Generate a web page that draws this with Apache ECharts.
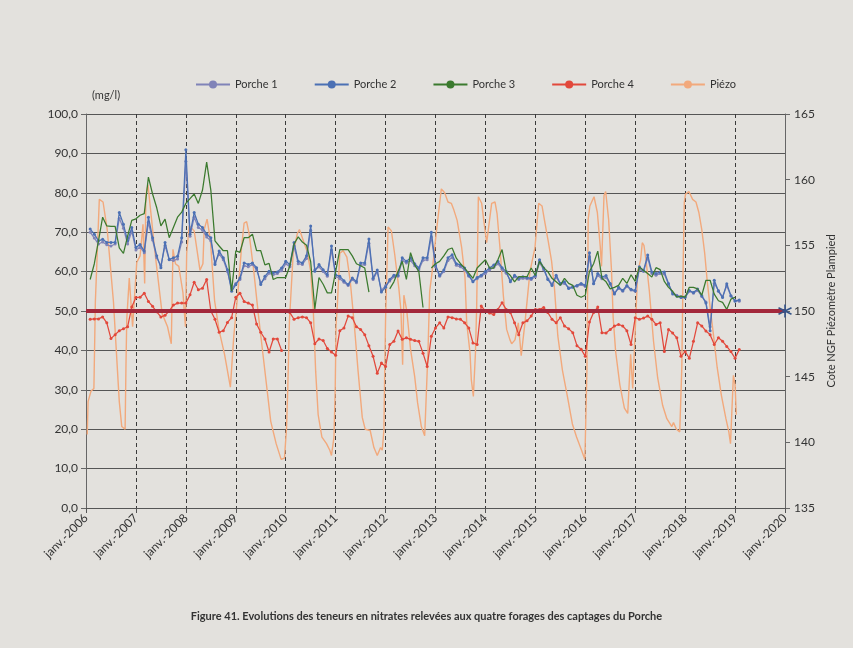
<!DOCTYPE html>
<html><head><meta charset="utf-8">
<script src="https://cdn.jsdelivr.net/npm/echarts@6/dist/echarts.min.js"></script>
<style>html,body{margin:0;padding:0;background:#e3e1dd;}#c{width:853px;height:648px;}</style>
</head><body><div id="c"></div>
<script>
// ---- Data ----
const yearTicks = [2006,2007,2008,2009,2010,2011,2012,2013,2014,2015,2016,2017,2018,2019,2020];
const seriesNames = ['Porche 1','Porche 2','Porche 3','Porche 4','Piézo'];
// monthly samples, first sample = Feb 2006
const porcheStartMonth = 1;
const porche1 = [70,68.5,67,67.5,66.8,66.5,67,73.5,71,67,70.2,65.5,66.2,64.8,72.5,68,63.5,61.5,66.6,63,62.8,63.2,67.5,88,69,73.8,71.2,70.5,68.8,67.8,62.2,64.5,63,60,55.6,57,58,61.5,61.2,61.8,60.5,57.2,58.2,59.6,59.2,59.5,60.2,62,61.2,66.5,62,61.8,63.3,70.5,60.5,61.2,60,58.8,65.5,58.8,58.2,57.3,56.5,58,57.2,61.6,61.8,67.2,58,60,55.2,56.4,57.6,58.7,58.8,62.8,62.2,62.8,61.5,60.5,62.9,63,68.8,61.2,58.8,60,62.8,63.6,61.6,61.2,60.4,58.8,57.6,58.2,58.8,59.5,60.4,61.1,62,60.6,59.6,57.8,58.7,58,58.3,58.2,58,58.7,62.3,60.5,58.2,56.8,58.6,56.8,57,55.9,56.2,56.3,56.7,56.2,63.8,57,59,58.2,58.5,56.8,54.6,55.7,55,56.2,55.3,55,60.6,60,63.5,59.5,59.1,59.5,59.4,56.8,54.6,54,53.6,53.6,55,54.5,55.2,53.7,52.3,46,57,55.2,53.6,56.4,53.8,52.7,52.5];
const porche2 = [70.8,69.5,67.8,68.2,67.4,67.4,67.4,75,72,67.8,71.2,66.1,66.9,65.2,73.8,68.6,64,61,67.4,63.1,63.5,63.9,68.6,90.9,69.5,75,72,71.2,69.5,68.6,61.8,65.2,63.5,60.5,55,56.7,58.4,62.2,61.8,62.2,61,56.7,58.8,60.1,59.7,59.9,60.9,62.6,61.8,67.4,62.6,62.2,64,71.6,60.1,61.8,60.5,59.2,66.5,59.2,58.8,57.7,56.7,58.4,57.5,62.2,62.2,68.3,58.3,60.4,54.8,56,58,59.1,59.1,63.5,62.6,63.5,62,60.9,63.5,63.5,70,61.7,59.1,60.4,63.5,64.3,62,61.7,60.9,59.1,57.4,58.5,59.1,60,60.9,61.7,62.6,61,60,57.4,59.1,58.3,58.7,58.5,58.3,59.1,63,60.9,58,56.5,59.1,57,57.4,55.7,56,56.5,57,56.5,64.8,56.9,59.5,58.6,59,57,54.3,56,55.2,56.5,55.5,55.2,61.2,60.3,64.2,59.9,59.5,59.9,59.9,57,54.3,53.8,53.4,53.4,55.2,54.7,55.6,53.9,52,45,57.8,55,53.4,56.9,53.9,52.5,52.8];
const porche3 = [58,62,67.8,73.8,71.6,71.5,71.5,66,64.6,69,73,73.4,74.3,74.7,84,79.7,76.2,71.6,73.3,68.6,71.2,73.8,75.1,77.3,78.5,79.7,77.3,80.7,87.8,80.7,67.8,66.5,65.3,65.3,55,65.3,64.9,68.6,68.6,69.5,65.3,65.3,61.7,62.1,58,58.5,58.5,58.5,61.5,67,68.8,67.5,66.7,62.5,50.5,58.5,56.8,54.6,54.6,60,65.6,65.6,65.6,64,62,61.5,60.9,54.8,null,null,null,null,55.6,57.4,60,62.6,58,64.8,61.7,60,50.9,null,60.9,62,62.6,64,65.6,66,63.4,62,60.9,59.6,58.3,60.9,62,63,60.9,60.9,63,65.6,60,59,57.4,58.7,58.7,58.7,60.9,59,62.6,61,60,58.3,57.4,56.5,58.3,57,56.5,54,53.5,54,60,62,65.2,58.3,57.4,55.6,56,56.5,58.3,57,59.2,57.5,61.2,60.3,59.5,58.6,61,60.5,57.5,56,55,53.5,53.8,53.5,56,56,55.6,54,57.8,57.8,54.3,52.6,52.2,50.4,53,53.5];
const porche4 = [47.9,48,48,48.5,47,43,44,45,45.5,46,51,53.4,53.5,54.5,52.4,51.2,49.8,48.5,48.9,50,51.5,52,52,52,54.1,57.3,55.4,55.8,58,50,47.9,44.6,45,47.1,48.3,53.5,54.5,52.4,52,51.5,46.7,44.6,42.9,39.6,42.9,42.9,40,null,49.6,47.9,48.3,48.5,48.3,47,41.7,42.9,42.5,40.5,39.6,38.8,45,45.7,48.7,48.3,46,45.3,44,41.2,38.5,34.2,36.8,35.9,41.5,42.3,44.9,42.8,43.2,42.8,42.5,42.3,39.3,35.9,43.6,45.7,47,45.7,48.5,48.3,48,47.9,47,45.7,41.9,41.5,51.3,49.9,49.5,49.1,50.4,52.1,50.4,49.6,47,44,47,47.5,48.7,50.4,50.4,50.9,49.6,47.9,47,48.3,46.2,45.5,44.5,41.2,40.3,38.5,47.2,49.6,51,44.5,44.4,45.3,46.2,46.6,46.2,45,41.5,48.3,47.9,48.2,48.7,47.9,46.6,47,39.7,45.3,44.4,43.2,38.5,39.7,38,42.3,47,46.2,44.9,44,41.5,43.2,42.3,41,39.7,38,40.2];
// piezometer: months since Jan 2006, level in m NGF
const piezoMonth = [0.3,0.5,1.2,1.9,2.25,2.8,3.2,4.1,5.1,6.6,8.0,8.6,9.4,9.6,9.8,10.4,11.2,12.2,13.0,13.7,14.1,14.4,14.9,16.6,18.3,19.6,20.5,20.9,21.5,22.3,23.3,23.9,24.2,24.8,26.0,27.4,28.1,28.4,29.1,29.9,30.9,32.0,33.3,34.7,35.1,35.5,36.5,37.4,38.0,38.6,39.2,40.3,41.4,42.9,44.4,45.7,46.9,47.7,48.2,48.5,48.9,49.8,50.8,51.3,52.3,53.2,54.0,54.6,55.2,55.8,56.7,57.8,58.6,59.0,59.6,59.9,60.1,60.4,61.0,61.8,62.7,63.5,64.5,65.4,66.4,67.1,68.3,69.2,70.0,70.8,71.2,71.6,71.8,72.0,72.6,73.4,74.2,75.2,75.7,76.1,76.4,77.1,78.0,79.0,79.7,80.6,81.4,81.8,82.2,82.6,83.2,84.2,85.4,86.2,87.0,87.8,88.4,89.2,90.3,91.1,91.5,92.3,92.6,93.1,93.6,93.9,94.3,95.1,95.6,96.3,97.5,98.3,98.8,99.5,100.3,101.1,101.9,102.3,103.1,103.9,104.6,105.5,106.7,107.9,108.8,109.6,110.2,111.1,111.9,112.6,113.4,114.5,115.7,116.9,117.9,119.1,119.9,120.4,120.7,121.1,122.1,122.9,123.6,123.9,124.5,124.9,125.6,126.3,126.7,127.3,128.3,129.4,130.2,130.9,131.4,132.0,132.6,133.3,133.7,134.1,134.7,135.4,136.4,137.4,138.6,139.6,140.8,141.2,141.9,142.7,143.2,143.5,143.8,144.1,144.9,145.8,146.6,147.3,148.0,148.7,149.3,150.0,150.8,151.7,152.7,153.8,154.5,154.9,155.6,156.0,156.3];
const piezoLevel = [140.6,143.1,143.9,144.1,150.7,155.2,158.5,158.3,156.2,150.7,143.1,141.2,141.0,145.7,149.4,152.5,148.8,153.7,154.2,156.6,152.1,158.8,159.6,154.4,149.8,148.8,147.5,154.7,153.6,153.4,151.4,148.8,154.4,156.5,156.1,153.1,153.6,156.2,157.0,155.4,150.8,148.5,146.7,144.2,144.1,148.0,151.4,154.9,156.7,156.8,155.9,153.1,149.8,145.7,141.6,139.9,138.7,138.8,141.1,144.2,149.3,154.4,155.9,156.2,155.3,154.5,153.0,150.3,145.4,142.1,140.4,139.9,139.4,139.0,140.4,144.1,148.9,150.4,154.4,154.6,154.1,152.3,148.9,145.4,141.9,141.0,140.9,139.6,139.0,139.6,139.4,140.9,145.5,149.4,156.4,156.1,154.3,151.7,150.0,145.9,151.2,150.0,147.1,145.0,143.0,141.2,140.5,140.6,147.0,151.5,153.0,156.0,159.3,159.0,158.3,158.2,157.7,156.9,154.8,152.5,149.1,146.8,144.8,143.5,146.8,150.4,158.7,158.2,156.9,155.2,158.2,158.3,157.4,154.8,151.2,148.6,147.8,147.5,147.8,149.1,146.6,149.1,153.0,154.8,158.2,158.0,156.9,155.3,153.8,151.7,148.1,145.5,143.5,141.4,140.4,139.4,138.7,145.5,157.0,158.0,158.7,157.5,154.9,153.4,158.8,159.1,157.0,153.1,149.5,146.9,144.4,142.6,142.2,146.7,144.1,148.5,153.0,153.9,155.2,155.0,153.6,151.5,147.7,144.9,142.8,141.8,141.2,141.5,141.0,140.8,145.7,153.0,158.3,158.9,159.1,158.5,158.3,157.5,156.2,154.4,152.3,150.3,148.2,145.7,143.6,141.8,140.8,139.9,145.1,144.4,142.1];
const limitValue = 50;
const leftTicks = [0,10,20,30,40,50,60,70,80,90,100];
const rightTicks = [135,140,145,150,155,160,165];

// ---- build ----
const monthly = (vals, start) => vals.map((v, i) => [2006 + (start + i) / 12, v]);
const piezoData = piezoMonth.map((m, i) => [2006 + m / 12, piezoLevel[i]]);
const FONT = 'Lato';
const colors = ['#8083b8', '#4b70b4', '#3b7a2e', '#e2483b', '#f2a97c'];

const chart = echarts.init(document.getElementById('c'), null, {renderer: 'canvas'});
const porcheSeries = [porche1, porche2, porche3, porche4].map((arr, k) => ({
  name: seriesNames[k], type: 'line', yAxisIndex: 0,
  data: monthly(arr, porcheStartMonth),
  symbol: k === 2 ? 'none' : 'circle', symbolSize: 3, showSymbol: k !== 2,
  lineStyle: {width: 1.25, color: colors[k]},
  itemStyle: {color: colors[k]},
  z: 3 + k, animation: false
}));
chart.setOption({
  backgroundColor: '#e3e1dd',
  animation: false,
  textStyle: {fontFamily: FONT},
  legend: {
    data: seriesNames, top: 74, left: 190, itemGap: 36, itemWidth: 34, itemHeight: 10,
    textStyle: {fontSize: 11, color: '#333', fontFamily: FONT}
  },
  grid: {left: 86, right: 68, top: 114, bottom: 140},
  xAxis: {
    type: 'value', min: yearTicks[0], max: yearTicks[yearTicks.length - 1], interval: 1,
    axisLine: {lineStyle: {color: '#555', width: 1.2}},
    axisTick: {show: true, length: 5, lineStyle: {color: '#555'}},
    axisLabel: {rotate: 45, fontSize: 12, color: '#333', margin: 8, fontFamily: FONT,
      formatter: v => 'janv.-' + v},
    splitLine: {show: true, lineStyle: {type: [4, 3], color: '#3a3a3a', width: 1}}
  },
  yAxis: [{
    type: 'value', min: leftTicks[0], max: leftTicks[leftTicks.length - 1], interval: 10,
    axisLine: {show: true, lineStyle: {color: '#666', width: 1}},
    axisTick: {show: true, length: 5, lineStyle: {color: '#666'}},
    axisLabel: {fontSize: 12, color: '#333', margin: 8, fontFamily: FONT,
      formatter: v => v.toFixed(1).replace('.', ',')},
    splitLine: {show: true, lineStyle: {color: '#555', width: 1.1}}
  }, {
    type: 'value', min: rightTicks[0], max: rightTicks[rightTicks.length - 1], interval: 5,
    position: 'right',
    name: 'Cote NGF Piézomètre Plampied', nameLocation: 'middle', nameRotate: 90, nameGap: 38,
    nameTextStyle: {fontSize: 11, color: '#333', fontFamily: FONT},
    axisLine: {show: true, lineStyle: {color: '#666', width: 1}},
    axisTick: {show: true, length: 5, lineStyle: {color: '#666'}},
    axisLabel: {fontSize: 12, color: '#333', margin: 9, fontFamily: FONT},
    splitLine: {show: false}
  }],
  graphic: [
    {type: 'text', left: 92, top: 90, style: {text: '(mg/l)', fontSize: 11, fill: '#333', fontFamily: FONT}},
    {type: 'text', left: 'center', top: 611, style: {
      text: 'Figure 41. Evolutions des teneurs en nitrates relevées aux quatre forages des captages du Porche',
      fontSize: 11, fontWeight: 'bold', fill: '#333', fontFamily: FONT}}
  ],
  series: [
    {
      name: seriesNames[4], type: 'line', yAxisIndex: 1, data: piezoData,
      symbol: 'none', showSymbol: false, lineStyle: {width: 1.4, color: colors[4]},
      itemStyle: {color: colors[4]}, z: 2
    },
    ...porcheSeries,
    {
      name: 'Seuil', type: 'line', yAxisIndex: 0, z: 10,
      data: [
        {value: [yearTicks[0], limitValue], symbol: 'none'},
        {value: [yearTicks[yearTicks.length - 1], limitValue],
         symbol: 'path://M6,0L6,12M0.8,3L11.2,9M0.8,9L11.2,3', symbolSize: 13,
         itemStyle: {color: 'rgba(0,0,0,0)', borderColor: '#35548a', borderWidth: 1.6}}
      ],
      showSymbol: true,
      lineStyle: {width: 4, color: '#a3283b'}, itemStyle: {color: '#a3283b'}
    }
  ]
});
</script></body></html>
